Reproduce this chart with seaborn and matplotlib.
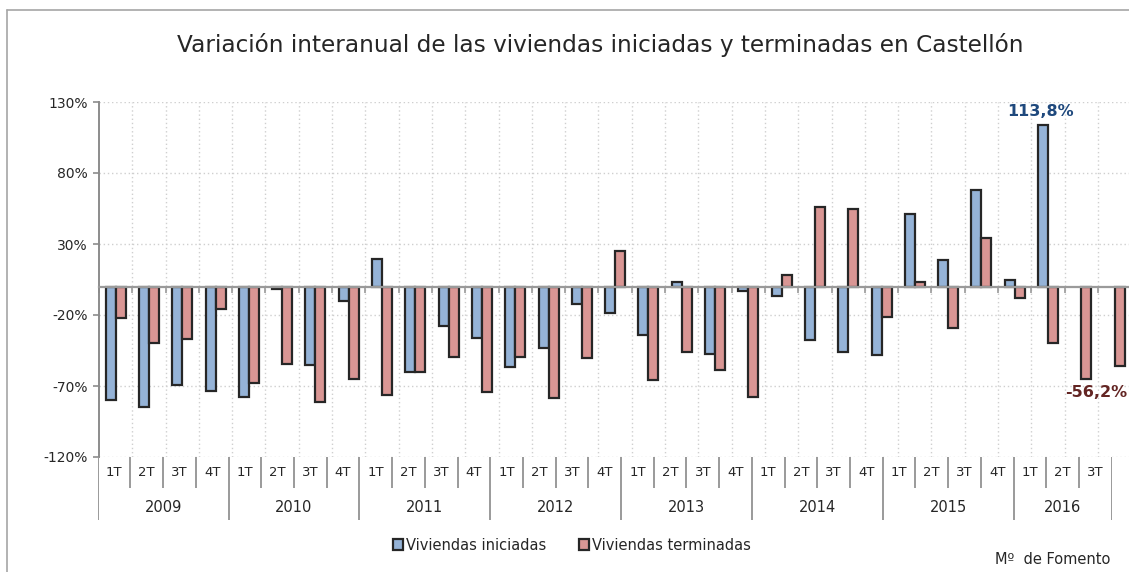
import numpy as np
import matplotlib as mpl
from matplotlib import pyplot as plt
from matplotlib.lines import Line2D
import seaborn as sns
import pandas as pd

sns.set_style('white')
plt.rcParams['font.family'] = ['DejaVu Sans']
plt.rcParams['axes.unicode_minus'] = False

years = ['2009', '2010', '2011', '2012', '2013', '2014', '2015', '2016']
quarters = ['1T', '2T', '3T', '4T']

iniciadas = [-80.0, -85.0, -69.2, -73.2,
             -77.4, -1.6, -55.1, -10.1,
             19.3, -59.8, -27.7, -35.9,
             -56.3, -42.9, -12.0, -18.3,
             -34.2, 3.3, -47.6, -2.8,
             -6.3, -37.5, -46.2, -48.3,
             51.4, 18.6, 68.1, 4.5,
             113.8, np.nan, np.nan]
terminadas = [-21.8, -39.9, -37.0, -15.7,
              -67.6, -54.7, -81.4, -65.0,
              -76.3, -59.8, -49.3, -73.9,
              -49.3, -78.6, -50.0, 25.1,
              -65.7, -45.8, -58.7, -77.7,
              8.0, 56.4, 54.5, -21.1,
              3.1, -29.1, 34.3, -8.2,
              -39.4, -65.2, -56.2]

series = ['Viviendas iniciadas', 'Viviendas terminadas']
colors = ['#95B3D7', '#D99694']

periods = [f'{y} {q}' for y in years for q in quarters][:len(terminadas)]
df = pd.DataFrame({'periodo': periods * 2,
                   'serie': [series[0]] * len(periods) + [series[1]] * len(periods),
                   'valor': iniciadas + terminadas}).dropna()

fig = plt.figure(figsize=(11.29, 5.72), dpi=100)
ax = fig.add_axes([99 / 1129, 1 - 457 / 572, 1030 / 1129, 355 / 572])

sns.barplot(data=df, x='periodo', y='valor', hue='serie', order=periods, hue_order=series,
            palette=colors, saturation=1, width=0.6, edgecolor='#262626', linewidth=1.6, ax=ax)

handles, labels = ax.get_legend_handles_labels()
ax.get_legend().remove()

ax.set_ylim(-120, 130)
ax.set_xlim(-0.5, -0.5 + 1030 / 33.3)
ax.set_yticks(np.arange(-120, 131, 50))
ax.yaxis.set_major_formatter(mpl.ticker.FuncFormatter(lambda v, p: f'{int(v)}%'))
ax.tick_params(axis='y', direction='out', length=4, width=1.2, color='#8C8C8C',
               labelsize=10, labelcolor='#262626', pad=4, left=True)
ax.set_xlabel('')
ax.set_ylabel('')

# zero line with small ticks at category boundaries
ax.spines['bottom'].set_position(('data', 0))
ax.spines['bottom'].set_color('#9A9A9A')
ax.spines['bottom'].set_linewidth(1.6)
ax.set_xticks(np.arange(len(periods)) - 0.5)
ax.set_xticklabels([])
ax.tick_params(axis='x', direction='out', length=4, width=1.2, color='#9A9A9A', bottom=True)
ax.spines['left'].set_color('#8C8C8C')
ax.spines['left'].set_linewidth(1.4)
ax.spines['top'].set_visible(False)
ax.spines['right'].set_visible(False)

for v in np.arange(-120, 131, 50):
    ax.axhline(v, color='#CFCFCF', lw=1.0, ls=(0, (1, 2)), zorder=0)
for k in range(len(periods)):
    ax.axvline(k + 0.5, color='#CFCFCF', lw=1.0, ls=(0, (1, 2)), zorder=0)

# data labels
ax.annotate('113,8%', xy=(28 - 0.15, iniciadas[28]), xytext=(-2, 4), textcoords='offset points',
            ha='center', va='bottom', fontsize=11.5, fontweight='bold', color='#1F497D')
ax.annotate('-56,2%', xy=(30 + 0.15, terminadas[30]), xytext=(-17, -19), textcoords='offset points',
            ha='center', va='center', fontsize=11.5, fontweight='bold', color='#632523',
            annotation_clip=False)

# category table below the plot
tab = fig.add_axes([97.7 / 1129, 1 - 520 / 572, 1014 / 1129, 63 / 572])
tab.set_xlim(-0.5, len(periods) - 0.5)
tab.set_ylim(0, 1)
tab.axis('off')
sep_q = [k - 0.5 for k in range(1, len(periods)) if k % 4 != 0]
sep_y = [k - 0.5 for k in range(0, len(periods), 4)] + [len(periods) - 0.5]
tab.vlines(sep_q, 0.508, 1, color='#9A9A9A', lw=1.4)
tab.vlines(sep_y, 0, 1, color='#9A9A9A', lw=1.4)
for k, p in enumerate(periods):
    tab.text(k, 0.76, p.split()[1], ha='center', va='center', fontsize=9.5, color='#262626')
for i, y in enumerate(years):
    n = sum(1 for p in periods if p.startswith(y))
    tab.text(4 * i + (n - 1) / 2, 0.2, y, ha='center', va='center', fontsize=10.5, color='#262626')

fig.suptitle('Variación interanual de las viviendas iniciadas y terminadas en Castellón',
             x=600 / 1129, y=1 - 45 / 572, va='center', fontsize=16.7, color='#262626')

fig.legend(handles, labels, loc='center', bbox_to_anchor=(572 / 1129, 1 - 545 / 572), ncol=2,
           frameon=False, fontsize=10.5, handlelength=0.7, handleheight=0.7, handletextpad=0.2,
           columnspacing=2.2, labelcolor='#262626')

fig.text(1110 / 1129, 1 - 560 / 572, 'Mº  de Fomento', ha='right', va='center', fontsize=10.5,
         color='#262626')

x0, y0 = 7 / 1129, 1 - 10 / 572
fig.add_artist(Line2D([x0, x0], [0, y0], transform=fig.transFigure, color='#A6A6A6', lw=1.2))
fig.add_artist(Line2D([x0, 1], [y0, y0], transform=fig.transFigure, color='#A6A6A6', lw=1.2))

fig.savefig('out.png', dpi=100)
